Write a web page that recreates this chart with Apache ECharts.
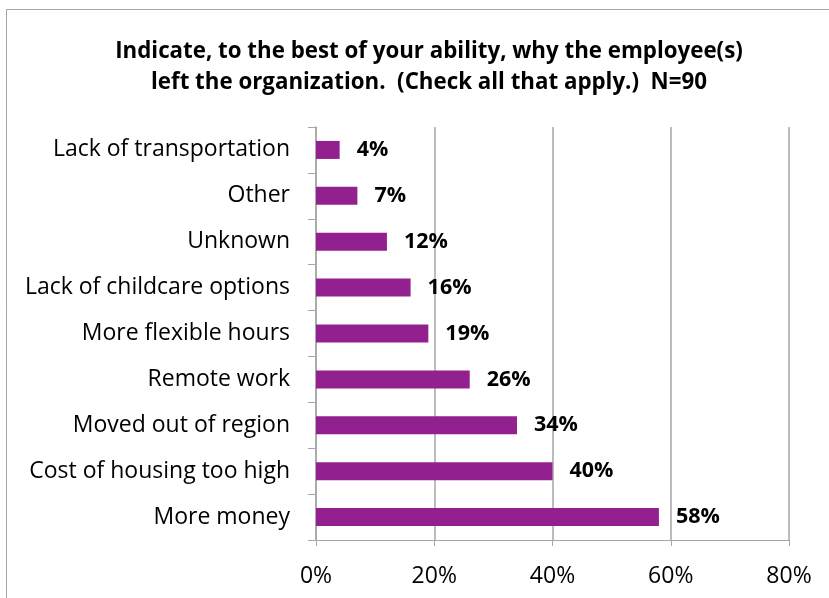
<!DOCTYPE html>
<html>
<head>
<meta charset="utf-8">
<script src="https://cdn.jsdelivr.net/npm/echarts@6/dist/echarts.min.js"></script>
<style>
  html, body { margin: 0; padding: 0; background: #fff; }
  #chart { width: 829px; height: 598px; }
</style>
</head>
<body>
<div id="chart"></div>
<script>
// Reasons given for employees leaving, top to bottom
const categories = [
  'Lack of transportation',
  'Other',
  'Unknown',
  'Lack of childcare options',
  'More flexible hours',
  'Remote work',
  'Moved out of region',
  'Cost of housing too high',
  'More money'
];
// Share of respondents (%)
const percentages = [4, 7, 12, 16, 19, 26, 34, 40, 58];
// Value axis ticks (%)
const axisTicks = [0, 20, 40, 60, 80];

const FONT = '"Open Sans", Lato, sans-serif';
const GRID_GRAY = '#A6A6A6';

const chart = echarts.init(document.getElementById('chart'), null, { renderer: 'canvas' });

chart.setOption({
  backgroundColor: '#ffffff',
  animation: false,
  title: {
    text: 'Indicate, to the best of your ability, why the employee(s)\nleft the organization.  (Check all that apply.)  N=90',
    left: 424,
    top: 31,
    textAlign: 'center',
    textStyle: {
      fontFamily: FONT,
      fontWeight: 'bold',
      fontSize: 22.3,
      lineHeight: 31,
      color: '#000'
    }
  },
  graphic: [{
    type: 'rect',
    shape: { x: 6.5, y: 9.5, width: 900, height: 700 },
    style: { fill: 'none', stroke: GRID_GRAY, lineWidth: 1 },
    silent: true
  }],
  grid: {
    left: 316,
    right: 40,
    top: 127,
    bottom: 58,
    containLabel: false
  },
  xAxis: {
    type: 'value',
    min: axisTicks[0],
    max: axisTicks[axisTicks.length - 1],
    interval: axisTicks[1] - axisTicks[0],
    axisLine: { show: true, lineStyle: { color: GRID_GRAY, width: 1 } },
    axisTick: { show: true, length: 6, lineStyle: { color: GRID_GRAY } },
    splitLine: { show: true, lineStyle: { color: GRID_GRAY, width: 1.5 } },
    axisLabel: {
      formatter: '{value}%',
      fontFamily: FONT,
      fontSize: 23,
      color: '#000',
      margin: 25
    }
  },
  yAxis: {
    type: 'category',
    data: categories,
    inverse: true,
    axisLine: { show: true, lineStyle: { color: GRID_GRAY, width: 1.5 } },
    axisTick: { show: true, length: 8, lineStyle: { color: GRID_GRAY } },
    splitLine: { show: false },
    axisLabel: {
      fontFamily: FONT,
      fontSize: 23,
      color: '#000',
      margin: 26,
      padding: [5, 0, 0, 0]
    }
  },
  series: [{
    type: 'bar',
    data: percentages,
    barWidth: 18,
    itemStyle: { color: '#93208F' },
    label: {
      show: true,
      position: 'right',
      distance: 17,
      formatter: p => p.value + '%',
      fontFamily: FONT,
      fontWeight: 'bold',
      fontSize: 21.5,
      color: '#000',
      padding: [3, 0, 0, 0]
    }
  }]
});
</script>
</body>
</html>
